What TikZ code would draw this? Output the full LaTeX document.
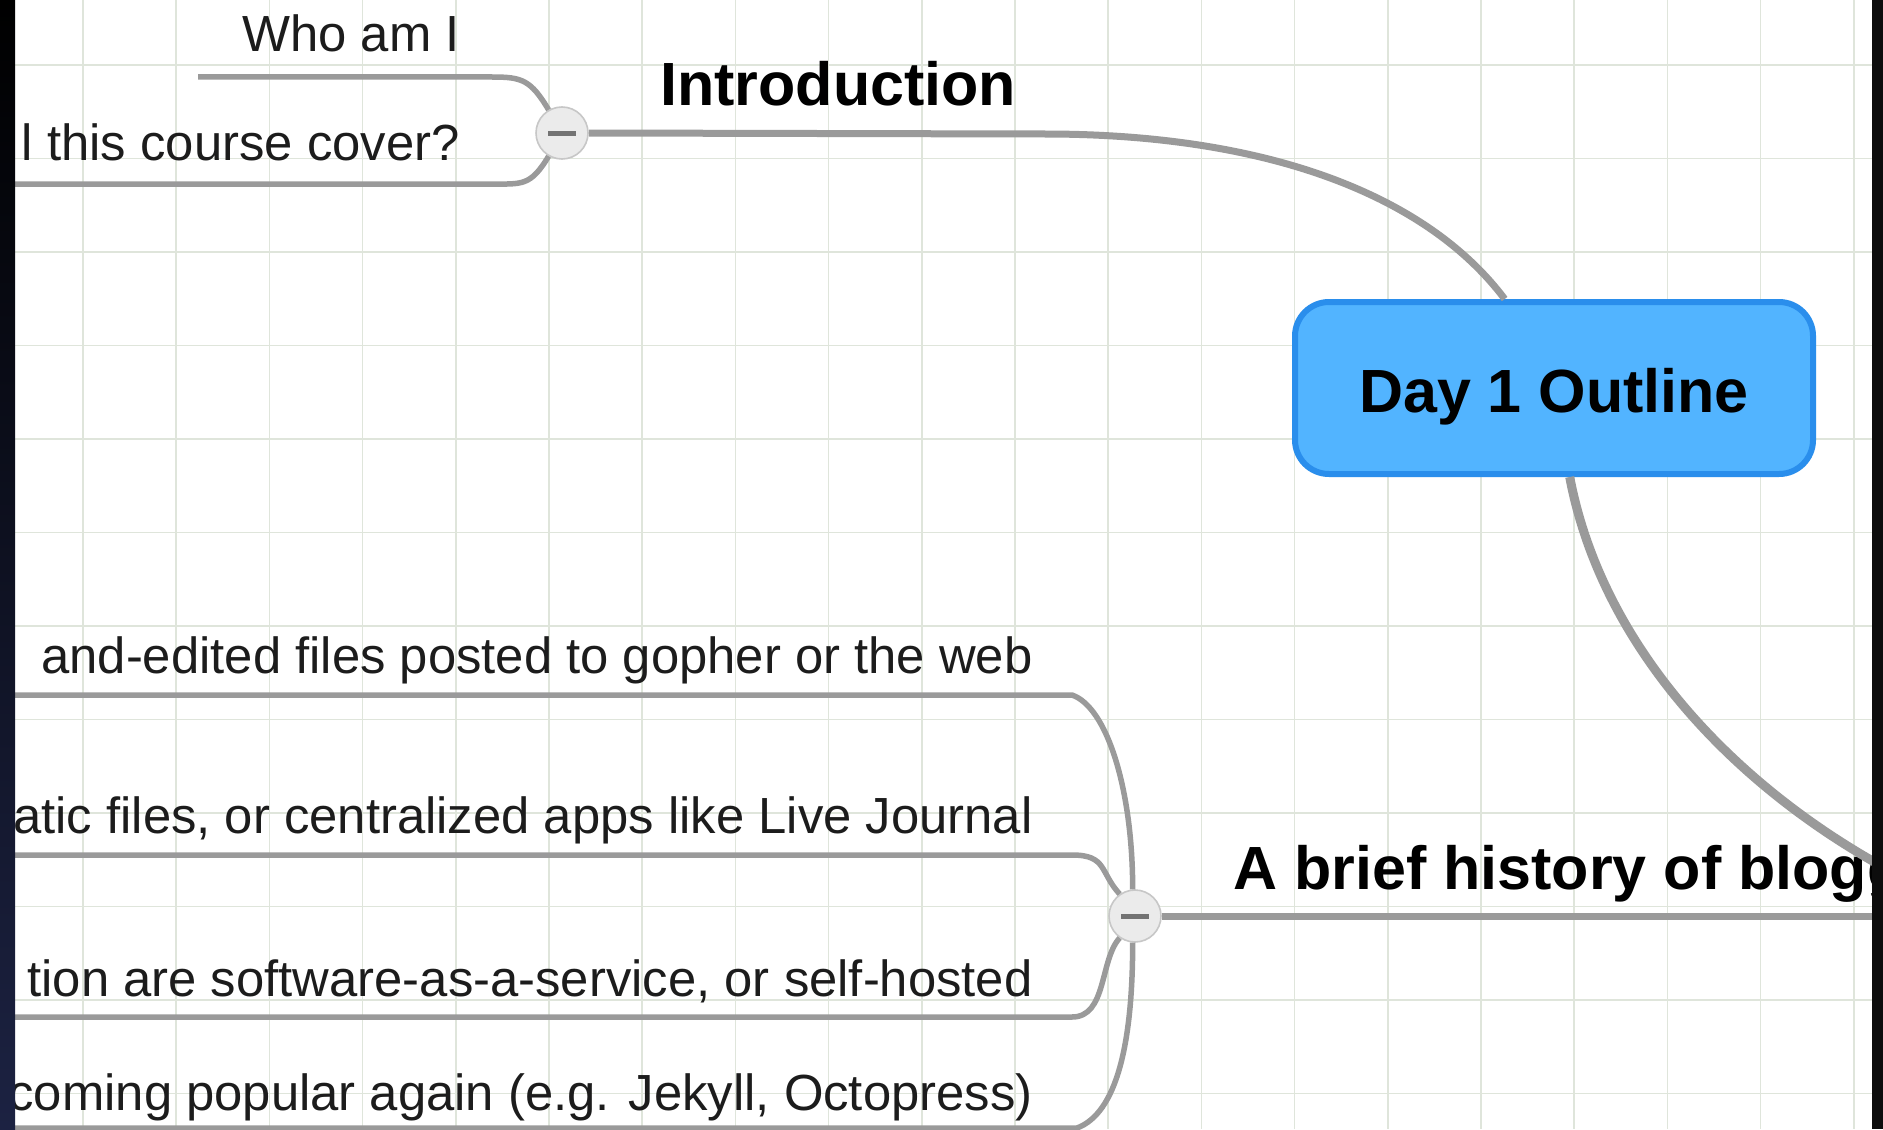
\documentclass[tikz,border=0pt]{standalone}
\usepackage{fontspec}
\setmainfont{Liberation Sans}
\usetikzlibrary{calc}
\definecolor{boxfill}{HTML}{52B4FF}
\definecolor{boxline}{HTML}{2A8EEC}
\definecolor{linegray}{HTML}{9A9A9A}
\definecolor{gridgreen}{HTML}{DFE5DB}
\definecolor{inkdark}{HTML}{1C1C1C}
\definecolor{sidenavy}{HTML}{1C2242}

\begin{document}
\begin{tikzpicture}[x=0.5pt,y=-0.5pt]
\tikzstyle{item}=[inner sep=0, text=inkdark, font=\fontsize{25.4pt}{30pt}\selectfont]
\tikzstyle{topic}=[item, text=black, font=\fontsize{30.5pt}{36pt}\selectfont\bfseries]
\tikzstyle{central}=[topic, rectangle, rounded corners=17pt, draw=boxline, fill=boxfill, line width=3pt, minimum width=259pt, minimum height=86pt, text height=30pt, text depth=6pt]
\tikzstyle{fold}=[circle, draw=black!22, fill=black!8, line width=0.8pt, minimum size=26pt, inner sep=0]
\tikzstyle{foldmark}=[draw=black!55, line width=2.5pt]
\tikzstyle{branch}=[draw=linegray, line width=2.75pt]
\tikzstyle{trunk}=[draw=linegray, line width=3.5pt]
\tikzstyle{gridline}=[draw=gridgreen, line width=0.8pt]

  \useasboundingbox (0,0) rectangle (1883,1129);
  \fill[white] (0,0) rectangle (1883,1129);
  \foreach \gx in {0,...,19} \draw[gridline] ({83+93.2*\gx},0) -- ({83+93.2*\gx},1129);
  \foreach \gy in {0,...,11} \draw[gridline] (0,{65+93.5*\gy}) -- (1883,{65+93.5*\gy});

  \begin{scope}
  \clip (15,0) rectangle (1872,1129);

  \node[central] (day)       at (1554,388) {Day 1 Outline};
  \node[fold]    (introfold) at (562,133)  {};
  \node[fold]    (histfold)  at (1135,916) {};

  \node[topic, anchor=base west] (intro) at (660,105)  {Introduction};
  \node[topic, anchor=base west] (hist)  at (1233,889) {A brief history of blogg};

  \node[item, anchor=base east] (who)    at (460,52)    {Who am I};
  \node[item, anchor=base east] (cover)  at (460,161)   {l this course cover?};
  \node[item, anchor=base east] (hand)   at (1033,673)  {and-edited files posted to gopher or the web};
  \node[item, anchor=base east] (static) at (1033,833)  {atic files, or centralized apps like Live Journal};
  \node[item, anchor=base east] (saas)   at (1033,996)  {tion are software-as-a-service, or self-hosted};
  \node[item, anchor=base east] (jekyll) at (1033,1110) {coming popular again (e.g. Jekyll, Octopress)};

  % underline ends
  \coordinate (whoL)    at (198,77);   \coordinate (whoR)    at (492,77);
  \coordinate (coverL)  at (0,184);    \coordinate (coverR)  at (492,184);
  \coordinate (introR)  at (1045,134);
  \coordinate (histR)   at (1990,916);
  \coordinate (handL)   at (0,695);    \coordinate (handR)   at (1072,695);
  \coordinate (staticL) at (0,855);    \coordinate (staticR) at (1072,855);
  \coordinate (saasL)   at (0,1017);   \coordinate (saasR)   at (1072,1017);
  \coordinate (jekyllL) at (0,1128);   \coordinate (jekyllR) at (1077,1128);

  \draw[trunk] (introfold.east) -- (introR) .. controls +(230,0) and +(-75,-100) .. (day.119);
  \draw[trunk, line width=4.5pt] (day.280) .. controls +(40,210) and +(-190,-70) .. (histR);
  \path (histfold.east) edge [trunk] (histR);

  \draw[branch] (whoL) -- (whoR) .. controls +(30,0) and +(-18,-30) .. (introfold.120);
  \draw[branch] (coverL) -- (coverR) .. controls +(30,0) and +(-18,30) .. (introfold.240);

  \draw[branch] (handL) -- (handR) .. controls +(35,12) and +(0,-100) .. (histfold.95);
  \draw[branch] (staticL) -- (staticR) .. controls +(35,0) and +(-20,-22) .. (histfold.125);
  \draw[branch] (saasL) -- (saasR) .. controls +(35,0) and +(-20,22) .. (histfold.235);
  \draw[branch] (jekyllL) -- (jekyllR) .. controls +(40,-15) and +(0,100) .. (histfold.265);

  \draw[foldmark] ([xshift=-7pt]introfold.center) -- ([xshift=7pt]introfold.center);
  \draw[foldmark] ([xshift=-7pt]histfold.center) -- ([xshift=7pt]histfold.center);
  \end{scope}

  \shade[top color=black, bottom color=sidenavy] (0,0) rectangle (15,1129);
  \fill[black!95] (1872,0) rectangle (1883,1129);
\end{tikzpicture}
\end{document}
